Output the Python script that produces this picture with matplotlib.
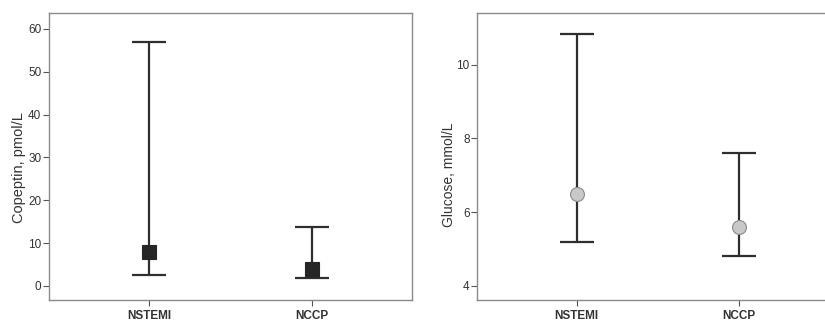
import matplotlib
matplotlib.use("Agg")
import matplotlib.pyplot as plt

groups = ["NSTEMI", "NCCP"]

copeptin_med = [8.0, 3.9]
copeptin_low = [2.5, 1.8]
copeptin_high = [57.0, 13.8]

glucose_med = [6.5, 5.6]
glucose_low = [5.2, 4.8]
glucose_high = [10.85, 7.6]

plt.rcParams['font.family'] = ['Liberation Sans', 'DejaVu Sans']

fig = plt.figure(figsize=(8.25, 3.22), dpi=100)
ax1 = fig.add_axes([0.0594, 0.0683, 0.44, 0.8913])
ax2 = fig.add_axes([0.5786, 0.0683, 0.4377, 0.8913])

line_col = '#2e2e2e'
spine_col = '#8a8a8a'
text_col = '#333333'


def draw(ax, med, low, high, marker, face, edge, ms):
    x = list(range(len(groups)))
    yerr = [[m - l for m, l in zip(med, low)], [h - m for m, h in zip(med, high)]]
    ax.errorbar(x, med, yerr=yerr, fmt='none', ecolor=line_col, elinewidth=1.6,
                capsize=12, capthick=1.6, zorder=2)
    ax.plot(x, med, linestyle='none', marker=marker, markersize=ms,
            markerfacecolor=face, markeredgecolor=edge, markeredgewidth=0.8, zorder=3)
    ax.set_xlim(-0.612, 1.612)
    ax.set_xticks(x)
    ax.set_xticklabels(groups, fontsize=8.5, color=text_col, fontweight='bold')
    for s in ax.spines.values():
        s.set_color(spine_col)
        s.set_linewidth(1.0)
    ax.tick_params(axis='both', colors='#555555', length=4.5, width=0.8, labelsize=8.5,
                   labelcolor=text_col, pad=1)
    ax.tick_params(axis='x', pad=3)


draw(ax1, copeptin_med, copeptin_low, copeptin_high, 's', '#262626', '#262626', 9.5)
ax1.set_ylim(-3.3, 63.7)
ax1.set_yticks([0, 10, 20, 30, 40, 50, 60])
ax1.set_ylabel("Copeptin, pmol/L", fontsize=10.5, color=text_col)
ax1.yaxis.set_label_coords(-0.063, 0.463)

draw(ax2, glucose_med, glucose_low, glucose_high, 'o', '#c8c8c8', '#8a8a8a', 10)
ax2.set_ylim(3.61, 11.41)
ax2.set_yticks([4, 6, 8, 10])
ax2.set_ylabel("Glucose, mmol/L", fontsize=10, color=text_col)
ax2.yaxis.set_label_coords(-0.059, 0.436)

fig.savefig("out.png", dpi=100)
